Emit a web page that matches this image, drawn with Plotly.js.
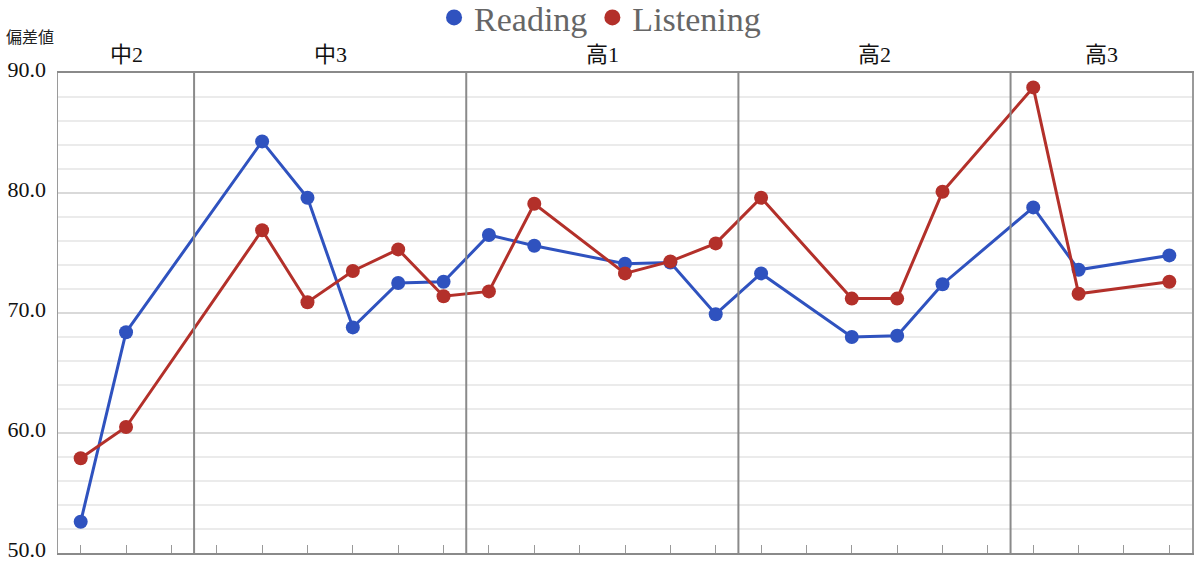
<!DOCTYPE html>
<html>
<head>
<meta charset="utf-8">
<script src="https://cdn.plot.ly/plotly-3.0.1.min.js"></script>
<style>html,body{margin:0;padding:0;background:#fff;}#chart{width:1200px;height:563px;}</style>
</head>
<body>
<div id="chart"></div>
<script>
// Slot index per exam (25 slots across 5 school-year groups)
const groupNames = ["中2", "中3", "高1", "高2", "高3"];
const groupSizes = [3, 6, 6, 6, 4];
const slots = [0,1,2,3,4,5,6,7,8,9,10,11,12,13,14,15,16,17,18,19,20,21,22,23,24];
const reading = [52.6, 68.4, null, null, 84.3, 79.6, 68.8, 72.5, 72.6, 76.5, 75.6, null, 74.1, 74.2, 69.9, 73.3, null, 68.0, 68.1, 72.4, null, 78.8, 73.6, null, 74.8];
const listening = [57.9, 60.5, null, null, 76.9, 70.9, 73.5, 75.3, 71.4, 71.8, 79.1, null, 73.3, 74.3, 75.8, 79.6, null, 71.2, 71.2, 80.1, null, 88.8, 71.6, null, 72.6];
const yTitle = "偏差値";

const blue = "#2f52bf";
const red = "#b3302a";
const serif = "Liberation Serif, 'Noto Sans CJK JP', serif";

const traces = [
  {x: slots, y: reading, mode: "lines+markers", connectgaps: true, showlegend: false,
   line: {color: blue, width: 3}, marker: {color: blue, size: 14}},
  {x: slots, y: listening, mode: "lines+markers", connectgaps: true, showlegend: false,
   line: {color: red, width: 3}, marker: {color: red, size: 14}},
  {x: [null], y: [null], mode: "markers", name: "Reading", marker: {color: blue, size: 18}},
  {x: [null], y: [null], mode: "markers", name: "Listening", marker: {color: red, size: 18}}
];

const shapes = [];
const annotations = [];
let start = 0;
groupSizes.forEach((n, i) => {
  const end = start + n;
  if (i < groupSizes.length - 1) {
    shapes.push({type: "line", xref: "x", yref: "paper", x0: end - 0.5, x1: end - 0.5, y0: 0, y1: 1,
      line: {color: "#8a8a8a", width: 2}});
  }
  annotations.push({xref: "x", yref: "paper", x: start + (n - 1) / 2, y: 1.0375, yanchor: "middle",
    text: groupNames[i], showarrow: false, font: {family: serif, size: 22, color: "#111"}});
  start = end;
});
annotations.push({xref: "paper", yref: "paper", x: -0.048, xanchor: "left", y: 1.073, yanchor: "middle",
  text: yTitle, showarrow: false, font: {family: serif, size: 16, color: "#222"}});

const layout = {
  width: 1200, height: 563,
  margin: {l: 58, r: 8, t: 73, b: 10, autoexpand: false},
  paper_bgcolor: "#fff", plot_bgcolor: "#fff",
  showlegend: true,
  legend: {orientation: "h", x: 0.478, xanchor: "center", y: 1.115, yanchor: "middle",
    font: {family: serif, size: 34, color: "#666"}, itemwidth: 30},
  xaxis: {range: [-0.5, 24.5], tickvals: slots, showticklabels: false, ticks: "inside", ticklen: 8,
    tickcolor: "#999", tickwidth: 1, showgrid: false, zeroline: false, showline: true,
    linecolor: "#8a8a8a", linewidth: 2, mirror: true, fixedrange: true},
  yaxis: {range: [50, 90], dtick: 10, tickformat: ".1f", showgrid: true, gridcolor: "#d9d9d9", gridwidth: 1.5,
    minor: {dtick: 2, showgrid: true, gridcolor: "#ebebeb", gridwidth: 1.5},
    zeroline: false, showline: true, linecolor: "#9a9a9a", linewidth: 1.5, mirror: true, ticks: "",
    ticklabelstandoff: 6, ticklabeloverflow: "allow", ticklabelshift: -4,
    tickfont: {family: serif, size: 22, color: "#111"}, fixedrange: true},
  shapes: shapes,
  annotations: annotations
};

Plotly.newPlot("chart", traces, layout, {displayModeBar: false, staticPlot: true});
</script>
</body>
</html>
